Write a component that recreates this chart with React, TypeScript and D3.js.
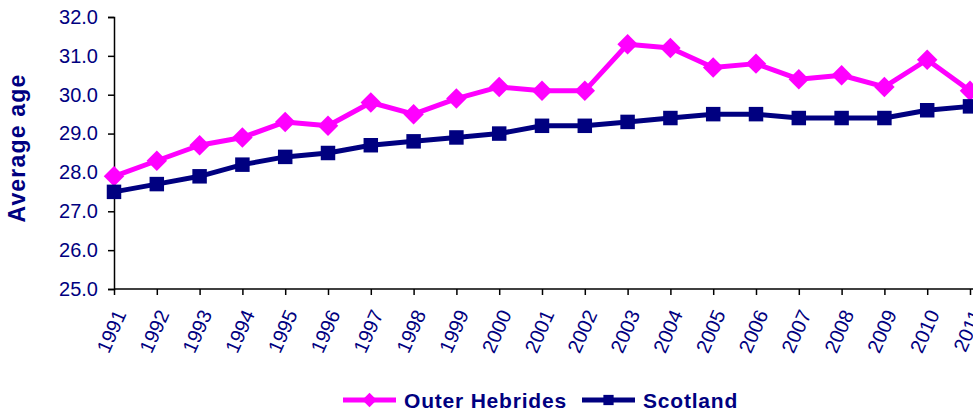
import React, { useEffect, useRef } from "react";
import * as d3 from "d3";

const years = ["1991", "1992", "1993", "1994", "1995", "1996", "1997", "1998", "1999", "2000", "2001",
  "2002", "2003", "2004", "2005", "2006", "2007", "2008", "2009", "2010", "2011"];
const outerHebrides = [27.9, 28.3, 28.7, 28.9, 29.3, 29.2, 29.8, 29.5, 29.9, 30.2, 30.1,
  30.1, 31.3, 31.2, 30.7, 30.8, 30.4, 30.5, 30.2, 30.9, 30.1];
const scotland = [27.5, 27.7, 27.9, 28.2, 28.4, 28.5, 28.7, 28.8, 28.9, 29.0, 29.2,
  29.2, 29.3, 29.4, 29.5, 29.5, 29.4, 29.4, 29.4, 29.6, 29.7];
const yTicks = [25, 26, 27, 28, 29, 30, 31, 32];

const NAVY = "#000080";
const PINK = "#ff00ff";
const FONT = "Arial, 'Liberation Sans', sans-serif";

export default function App() {
  const svgRef = useRef<SVGSVGElement>(null);

  useEffect(() => {
    const svg = d3.select(svgRef.current);
    svg.selectAll("*").remove();

    const width = 973;
    const height = 414;
    const margin = { top: 17, left: 114, bottom: 125 };
    const right = 970; // plot runs off the right edge, as in the reference

    const x = d3.scalePoint<string>().domain(years).range([margin.left, right]);
    const y = d3.scaleLinear().domain([25, 32]).range([height - margin.bottom, margin.top]);

    // y axis
    const yAxis = svg.append("g")
      .attr("transform", `translate(${margin.left},0)`)
      .call(d3.axisLeft(y).tickValues(yTicks).tickFormat(d3.format(".1f")).tickSize(6).tickPadding(10));
    yAxis.select(".domain").attr("stroke", "#000").attr("stroke-width", 1.5);
    yAxis.selectAll(".tick line").attr("stroke", "#000").attr("stroke-width", 1.5);
    yAxis.selectAll(".tick text")
      .attr("fill", NAVY)
      .style("font-family", FONT)
      .style("font-size", "20px");

    // x axis
    const xAxis = svg.append("g")
      .attr("transform", `translate(0,${y(25)})`)
      .call(d3.axisBottom(x).tickSize(6).tickSizeOuter(0));
    xAxis.select(".domain").attr("stroke", "#000").attr("stroke-width", 1.5).attr("d", `M${margin.left},0H${width}`);
    xAxis.selectAll(".tick line").attr("stroke", "#000").attr("stroke-width", 1.5);
    xAxis.selectAll(".tick text")
      .attr("fill", NAVY)
      .attr("text-anchor", "end")
      .attr("dy", "0.35em")
      .attr("transform", "translate(6,22) rotate(-66)")
      .attr("y", 0)
      .attr("x", 0)
      .style("font-family", FONT)
      .style("font-size", "20px");

    // y title
    svg.append("text")
      .attr("transform", `translate(25,${148}) rotate(-90)`)
      .attr("text-anchor", "middle")
      .attr("fill", NAVY)
      .style("font-family", FONT)
      .style("font-weight", "bold")
      .style("font-size", "23px")
      .style("letter-spacing", "1.2px")
      .text("Average age");

    const line = d3.line<number>()
      .x((_, i) => x(years[i]) as number)
      .y(d => y(d));

    const series = [
      { name: "Outer Hebrides", values: outerHebrides, color: PINK, rotate: 45, size: 210 },
      { name: "Scotland", values: scotland, color: NAVY, rotate: 0, size: 210 },
    ];
    const marker = d3.symbol().type(d3.symbolSquare);

    series.forEach(s => {
      svg.append("path")
        .datum(s.values)
        .attr("fill", "none")
        .attr("stroke", s.color)
        .attr("stroke-width", 5)
        .attr("stroke-linejoin", "round")
        .attr("d", line);
      svg.append("g")
        .selectAll("path")
        .data(s.values)
        .enter()
        .append("path")
        .attr("transform", (d, i) => `translate(${x(years[i])},${y(d)}) rotate(${s.rotate})`)
        .attr("d", marker.size(s.size)())
        .attr("fill", s.color);
    });

    // legend
    const legendY = 400;
    const legendX = [343, 582];
    series.forEach((s, i) => {
      const g = svg.append("g").attr("transform", `translate(${legendX[i]},${legendY})`);
      g.append("line")
        .attr("x1", 0).attr("x2", 53)
        .attr("stroke", s.color).attr("stroke-width", 5);
      g.append("path")
        .attr("transform", `translate(26.5,0) rotate(${s.rotate})`)
        .attr("d", marker.size(s.size * 0.5)())
        .attr("fill", s.color);
      g.append("text")
        .attr("x", 61)
        .attr("dy", "0.36em")
        .attr("fill", NAVY)
        .style("font-family", FONT)
        .style("font-weight", "bold")
        .style("font-size", "21px")
        .style("letter-spacing", "0.8px")
        .text(s.name);
    });
  }, []);

  return (
    <svg ref={svgRef} width={973} height={414}
      style={{ position: "absolute", left: 0, top: 0, background: "#fff" }} />
  );
}
